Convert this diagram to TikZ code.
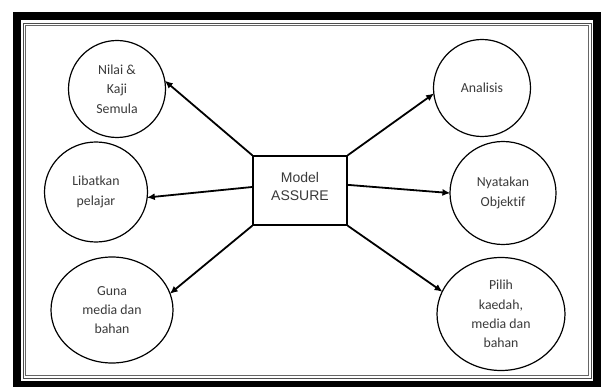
\documentclass[tikz,border=0pt]{standalone}
\usepackage{fontspec}
\setmainfont{Carlito}[Ligatures=NoCommon]
\newfontfamily\arialfont{Liberation Sans}
\usetikzlibrary{arrows.meta,shapes.geometric,calc}
\definecolor{txt}{HTML}{3A3A3A}
\tikzset{
  bubble/.style={draw=black, line width=1.2pt, ellipse, inner sep=0pt, align=center,
    font=\fontsize{13.8}{19.4}\selectfont, text=txt},
  centrebox/.style={draw=black, line width=1.4pt, minimum width=94pt, minimum height=69pt,
    inner sep=0pt, align=center, font=\arialfont\fontsize{14}{18}\selectfont, text=txt},
  arr/.style={line width=1.8pt, -{Latex[length=8pt,width=7pt]}, shorten >=-1pt}
}
\begin{document}
\begin{tikzpicture}[x=1pt,y=-1pt]
\useasboundingbox (0,0) rectangle (602,387);
% frame
\fill[black] (13,12) rectangle (601,388);
\fill[white] (21,20) rectangle (593,381);
\draw[line width=0.8pt, black!70] (23,23) rectangle (591,378);
\draw[line width=0.6pt, black!60] (25.5,25.5) rectangle (588.5,375.5);
% centre
\node[centrebox] (m) at (300,190.5) {};
\node[text=txt, align=center, font=\arialfont\fontsize{14}{18}\selectfont] (mt) at (300,186) {Model\\ASSURE};
% bubbles
\node[bubble, minimum width=97pt, minimum height=97pt] (nilai) at (117,89) {Nilai \&\\Kaji\\Semula};
\node[bubble, minimum width=103pt, minimum height=100pt] (libat) at (96,192) {Libatkan\\pelajar};
\node[bubble, minimum width=122pt, minimum height=106pt] (guna) at (112,310) {Guna\\media dan\\bahan};
\node[bubble, minimum width=97pt, minimum height=97pt] (anal) at (482,88) {Analisis};
\node[bubble, minimum width=106pt, minimum height=103pt] (nyat) at (503,193) {Nyatakan\\Objektif};
\node[bubble, minimum width=128pt, minimum height=113pt] (pilih) at (501,314) {Pilih\\kaedah,\\media dan\\bahan};
% connectors
\coordinate (lw) at ($(m.north west)!0.45!(m.south west)$);
\coordinate (re) at ($(m.north east)!0.42!(m.south east)$);
\draw[arr] (m.north west) -- (nilai.9);
\draw[arr] (lw) -- (libat.-6);
\draw[arr] (m.south west) -- (guna.16);
\draw[arr] (m.north east) -- (anal.187);
\draw[arr] (re) -- (nyat.180);
\draw[arr] (m.south east) -- (pilih.159);
\end{tikzpicture}
\end{document}
